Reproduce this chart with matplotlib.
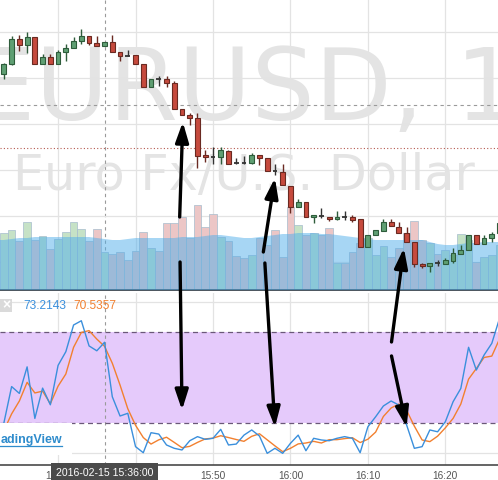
import numpy as np
import matplotlib
matplotlib.use("Agg")
import matplotlib.pyplot as plt
from matplotlib.patches import ConnectionPatch, Rectangle, ArrowStyle
from matplotlib.transforms import blended_transform_factory

# one candle per minute, 15:23 .. 16:27
minutes = list(range(23, 88))

opens = [1.11726, 1.11736, 1.11761, 1.11755, 1.11763, 1.11736, 1.11743, 1.11736, 1.11748, 1.11752,
         1.11759, 1.11764, 1.11757, 1.11754, 1.11758, 1.11748, 1.11744, 1.11745, 1.11736, 1.11713,
         1.11721, 1.11721, 1.11717, 1.11691, 1.11685, 1.11682, 1.11645, 1.11643, 1.11643, 1.11649,
         1.11637, 1.11637, 1.11637, 1.11645, 1.11642, 1.11629, 1.11628, 1.11614, 1.11593, 1.11598,
         1.11583, 1.11584, 1.11583, 1.11581, 1.11583, 1.11583, 1.11581, 1.11553, 1.11565, 1.11569,
         1.11578, 1.11573, 1.11567, 1.11558, 1.11536, 1.11534, 1.11537, 1.11536, 1.11539, 1.11546,
         1.11550, 1.11565, 1.11556, 1.11562, 1.11567]
highs = [1.11737, 1.11764, 1.11765, 1.11768, 1.11763, 1.11746, 1.11746, 1.11750, 1.11756, 1.11763,
         1.11771, 1.11764, 1.11764, 1.11758, 1.11765, 1.11748, 1.11750, 1.11745, 1.11736, 1.11721,
         1.11724, 1.11724, 1.11719, 1.11691, 1.11687, 1.11687, 1.11650, 1.11653, 1.11653, 1.11650,
         1.11642, 1.11644, 1.11647, 1.11645, 1.11642, 1.11636, 1.11636, 1.11614, 1.11601, 1.11598,
         1.11585, 1.11592, 1.11583, 1.11589, 1.11589, 1.11585, 1.11581, 1.11565, 1.11570, 1.11581,
         1.11581, 1.11578, 1.11573, 1.11558, 1.11537, 1.11537, 1.11540, 1.11542, 1.11552, 1.11555,
         1.11565, 1.11565, 1.11565, 1.11568, 1.11580]
lows = [1.11721, 1.11735, 1.11749, 1.11747, 1.11736, 1.11736, 1.11736, 1.11736, 1.11739, 1.11752,
        1.11756, 1.11755, 1.11754, 1.11754, 1.11748, 1.11739, 1.11744, 1.11736, 1.11713, 1.11713,
        1.11714, 1.11713, 1.11691, 1.11685, 1.11675, 1.11632, 1.11638, 1.11636, 1.11636, 1.11636,
        1.11636, 1.11636, 1.11636, 1.11635, 1.11629, 1.11625, 1.11615, 1.11587, 1.11593, 1.11583,
        1.11577, 1.11582, 1.11579, 1.11580, 1.11580, 1.11578, 1.11553, 1.11553, 1.11565, 1.11569,
        1.11574, 1.11567, 1.11558, 1.11533, 1.11532, 1.11528, 1.11534, 1.11536, 1.11537, 1.11546,
        1.11550, 1.11556, 1.11556, 1.11558, 1.11567]
closes = [1.11736, 1.11761, 1.11755, 1.11763, 1.11736, 1.11743, 1.11736, 1.11748, 1.11752, 1.11759,
          1.11764, 1.11757, 1.11754, 1.11758, 1.11748, 1.11744, 1.11744, 1.11736, 1.11713, 1.11721,
          1.11721, 1.11717, 1.11691, 1.11685, 1.11682, 1.11644, 1.11643, 1.11643, 1.11650, 1.11636,
          1.11637, 1.11637, 1.11645, 1.11642, 1.11629, 1.11629, 1.11615, 1.11593, 1.11598, 1.11583,
          1.11585, 1.11584, 1.11581, 1.11583, 1.11583, 1.11580, 1.11553, 1.11565, 1.11570, 1.11578,
          1.11574, 1.11567, 1.11558, 1.11536, 1.11534, 1.11537, 1.11537, 1.11540, 1.11547, 1.11550,
          1.11565, 1.11556, 1.11562, 1.11566, 1.11577]
volumes = [57, 60, 49, 68, 50, 54, 41, 51, 58, 68, 61, 49, 61, 38, 36, 38, 30, 39, 58, 42,
           39, 67, 67, 73, 52, 85, 63, 76, 53, 49, 34, 32, 35, 52, 45, 60, 33, 83, 65, 55,
           57, 55, 62, 27, 27, 38, 47, 52, 35, 44, 33, 42, 57, 69, 50, 47, 36, 40, 35, 56,
           50, 28, 33, 35, 45]
volume_ma = [50, 51, 52, 52, 53, 53, 53, 53, 53, 53, 53, 53, 52, 51, 50, 50, 51, 52, 52, 52,
             52, 52, 52, 53, 53, 53, 54, 55, 55, 54, 53, 52, 52, 53, 54, 55, 56, 56, 57, 57,
             57, 56, 56, 55, 54, 53, 52, 51, 50, 50, 50, 50, 50, 50, 50, 48, 46, 45, 45, 46,
             47, 47, 48, 48, 48]
stoch_k = [20, 44, 39.5, 57, 23, 43, 32, 58, 67, 84.6, 87.4, 70.8, 67.6, 73.2143, 37.3, 24.6, 26.4, 4.4, 0.4, 13.6,
           12.7, 5.5, 3.3, 2.2, 8.3, 11, 9.2, 9.9, 15.8, 5.5, 6.1, 12, 15.4, 11.4, 0, 3.3, 0, 6.6, 12, 1.7,
           9.9, 8.8, 8.3, 9.9, 11, 9.9, 0.4, 17.5, 24.1, 31.2, 34.5, 31.8, 18.7, 3.3, 4.4, 15.4, 14.2, 20.8, 34, 42.8,
           69.9, 54.9, 64.8, 72.5, 89]
stoch_d = [15, 26, 34.5, 46.8, 39.8, 41, 32.7, 44.3, 52.3, 69.9, 79.7, 80.9, 75.3, 70.5357, 59.4, 45, 29.4, 18.5, 10.4, 6.1,
           8.9, 10.6, 7.2, 3.7, 4.6, 7.2, 9.5, 10, 11.6, 10.4, 9.1, 7.9, 11.2, 12.9, 8.9, 4.9, 1.1, 3.3, 6.2, 6.8,
           7.9, 6.8, 9, 9, 9.7, 10.3, 7.1, 9.3, 14, 24.3, 29.9, 32.5, 28.3, 17.9, 8.8, 7.7, 11.3, 16.8, 23, 32.5,
           48.9, 55.9, 63.2, 64.1, 75.4]

time_ticks = [30, 40, 50, 60, 70, 80]
time_labels = ["15:30", "", "15:50", "16:00", "16:10", "16:20"]   # 15:40 sits under the cursor label
price_grid = [1.11768, 1.11722, 1.11676, 1.11630, 1.11584, 1.11538]
cursor_minute = 36
cursor_price = 1.11695
marker_price = 1.11652

# hand drawn arrows: (pane, minute, value) -> (pane, minute, value)
arrows = [
    (("p", 45.7, 1.11583), ("p", 46.1, 1.11678)),
    (("p", 45.75, 1.11538), ("s", 46.0, 28.5)),
    (("p", 56.5, 1.11548), ("p", 58.0, 1.11622)),
    (("p", 56.7, 1.11537), ("s", 58.0, 17.3)),
    (("s", 73.05, 73.4), ("p", 74.65, 1.11552)),
    (("s", 73.05, 64.2), ("s", 75.0, 17.3)),
]

W, H = 498, 480
XLIM = (22.5, 86.8)


def px_rect(x0, y0, x1, y1):
    return [x0 / W, 1 - y1 / H, (x1 - x0) / W, (y1 - y0) / H]


plt.rcParams['font.family'] = ['Liberation Sans', 'DejaVu Sans']
fig = plt.figure(figsize=(W / 100, H / 100), dpi=100)

ax_vol = fig.add_axes(px_rect(0, 0, W, 290))
ax = ax_vol.twinx()
ax_st = fig.add_axes(px_rect(0, 293, W, 465))

grid_c = '#e3e3e3'
for a in (ax_vol, ax_st):
    a.set_xlim(*XLIM)
    for t in time_ticks:
        a.axvline(t, color=grid_c, lw=0.9, zorder=0)
    a.axvline(cursor_minute, color='#9a9a9a', lw=0.8, dashes=(3, 3), zorder=1)

# watermark
ax_vol.text(-28 / W, 1 - 120 / 290, "EURUSD, 1", transform=ax_vol.transAxes, family='DejaVu Sans',
            fontsize=72, color='#e4e4e4', va='baseline', ha='left', zorder=0)
ax_vol.text(13 / W, 1 - 190 / 290, "Euro Fx/U.S. Dollar", transform=ax_vol.transAxes, family='DejaVu Sans',
            fontsize=35.5, color='#e4e4e4', va='baseline', ha='left', zorder=0)

# volume
ax_vol.set_ylim(0, 290)
up = [c > o for o, c in zip(opens, closes)]
vcols = ['#c6e2c6' if u else '#ecc6c6' for u in up]
ax_vol.bar(minutes, volumes, width=1.0, color=vcols, edgecolor='#a5bccd', linewidth=0.5, zorder=2)
xm = [XLIM[0]] + minutes + [XLIM[1] + 1]
ym = [volume_ma[0]] + volume_ma + [volume_ma[-1]]
ax_vol.fill_between(xm, 0, ym, color='#50afeb', alpha=0.5, lw=0, zorder=3)

# price pane
ax.set_ylim(1.11510, 1.11800)
for p in price_grid:
    ax_vol.axhline((p - 1.11510) / 0.00001, color=grid_c, lw=0.9, zorder=1)
ax.axhline(cursor_price, color='#9a9a9a', lw=0.8, dashes=(3, 3), zorder=1)
ax.axhline(marker_price, color='#b65a50', lw=0.8, dashes=(1, 2), zorder=1)

body_w = 0.62
for m, o, h, l, c in zip(minutes, opens, highs, lows, closes):
    if c > o:
        fc, ec = '#5f9f73', '#2e5c3b'
    elif c < o:
        fc, ec = '#c64a3d', '#6a2a22'
    else:
        fc, ec = '#333333', '#333333'
    ax.vlines(m, l, h, color=ec, lw=1.0, zorder=3)
    if c == o:
        ax.hlines(o, m - body_w / 2, m + body_w / 2, color=ec, lw=1.3, zorder=4)
    else:
        ax.bar(m, abs(c - o), bottom=min(o, c), width=body_w, color=fc,
               edgecolor=ec, linewidth=0.8, zorder=4)

# stochastic pane
ax_st.set_ylim(-7.7, 105.7)
for g in (0, 40, 60, 100):
    ax_st.axhline(g, color=grid_c, lw=0.9, zorder=0)
ax_st.axhspan(20, 80, color='#e5cafb', lw=0, zorder=0.5)
for g in (20, 80):
    ax_st.axhline(g, color='#6a5878', lw=0.9, dashes=(4, 3), zorder=1)
ax_st.plot(minutes, stoch_d, color='#f2802f', lw=1.0, zorder=3)
ax_st.plot(minutes, stoch_k, color='#3a8fdc', lw=1.0, zorder=4)

for a in (ax, ax_vol, ax_st):
    for s in a.spines.values():
        s.set_visible(False)
    a.set_yticks([])
ax.set_xticks([])
ax_vol.set_xticks([])
ax_vol.spines['bottom'].set_visible(True)
ax_vol.spines['bottom'].set_color('#3c4650')
ax_vol.spines['bottom'].set_linewidth(1.3)
ax_st.spines['bottom'].set_visible(True)
ax_st.spines['bottom'].set_color('#4a4a4a')
ax_st.spines['bottom'].set_linewidth(1.2)
ax_st.set_xticks(time_ticks)
ax_st.set_xticklabels(time_labels, fontsize=7.3, color='#555555')
ax_st.tick_params(axis='x', length=0, pad=4)

# cursor time label
tr = blended_transform_factory(ax_st.transData, fig.transFigure)
ax_st.text(cursor_minute, 1 - 473 / H, "2016-02-15 15:36:00", transform=tr, ha='center', va='center',
           fontsize=7.6, color='white', zorder=10,
           bbox=dict(boxstyle='square,pad=0.45', fc='#4b4b4b', ec='none'))

# legend values and close box
fig.add_artist(Rectangle((0, 1 - 312 / H), 12 / W, 13 / H, transform=fig.transFigure,
                         fc='#dadada', ec='none', zorder=5))
fig.text(6 / W, 1 - 305.5 / H, "\u00d7", ha='center', va='center', fontsize=10, color='white',
         weight='bold', zorder=6)
fig.text(23 / W, 1 - 306 / H, f"{stoch_k[minutes.index(cursor_minute)]:.4f}", ha='left', va='center',
         fontsize=8.6, color='#3a8fdc', zorder=6)
fig.text(73 / W, 1 - 306 / H, f"{stoch_d[minutes.index(cursor_minute)]:.4f}", ha='left', va='center',
         fontsize=8.6, color='#f2802f', zorder=6)

# TradingView logo box (only its tail shows at the left edge)
fig.add_artist(Rectangle((0, 1 - 455 / H), 72 / W, 32 / H, transform=fig.transFigure,
                         fc='white', ec='none', zorder=5))
fig.text(0.5 / W, 1 - 443 / H, "adingView", ha='left', va='baseline', fontsize=9,
         weight='bold', color='#2f8ccc', zorder=6)
fig.add_artist(plt.Line2D([0, 62 / W], [1 - 445.5 / H] * 2, transform=fig.transFigure,
                          color='#2f8ccc', lw=0.9, zorder=6))

# arrows
panes = {"p": ax, "s": ax_st}
style = ArrowStyle('-|>', head_length=1.1, head_width=0.36)
for (pa, xa, ya), (pb, xb, yb) in arrows:
    con = ConnectionPatch(xyA=(xa, ya), coordsA=panes[pa].transData,
                          xyB=(xb, yb), coordsB=panes[pb].transData,
                          arrowstyle=style, mutation_scale=11, color='black', lw=2.4,
                          shrinkA=0, shrinkB=0, zorder=8)
    fig.add_artist(con)

fig.savefig("out.png", dpi=100)
